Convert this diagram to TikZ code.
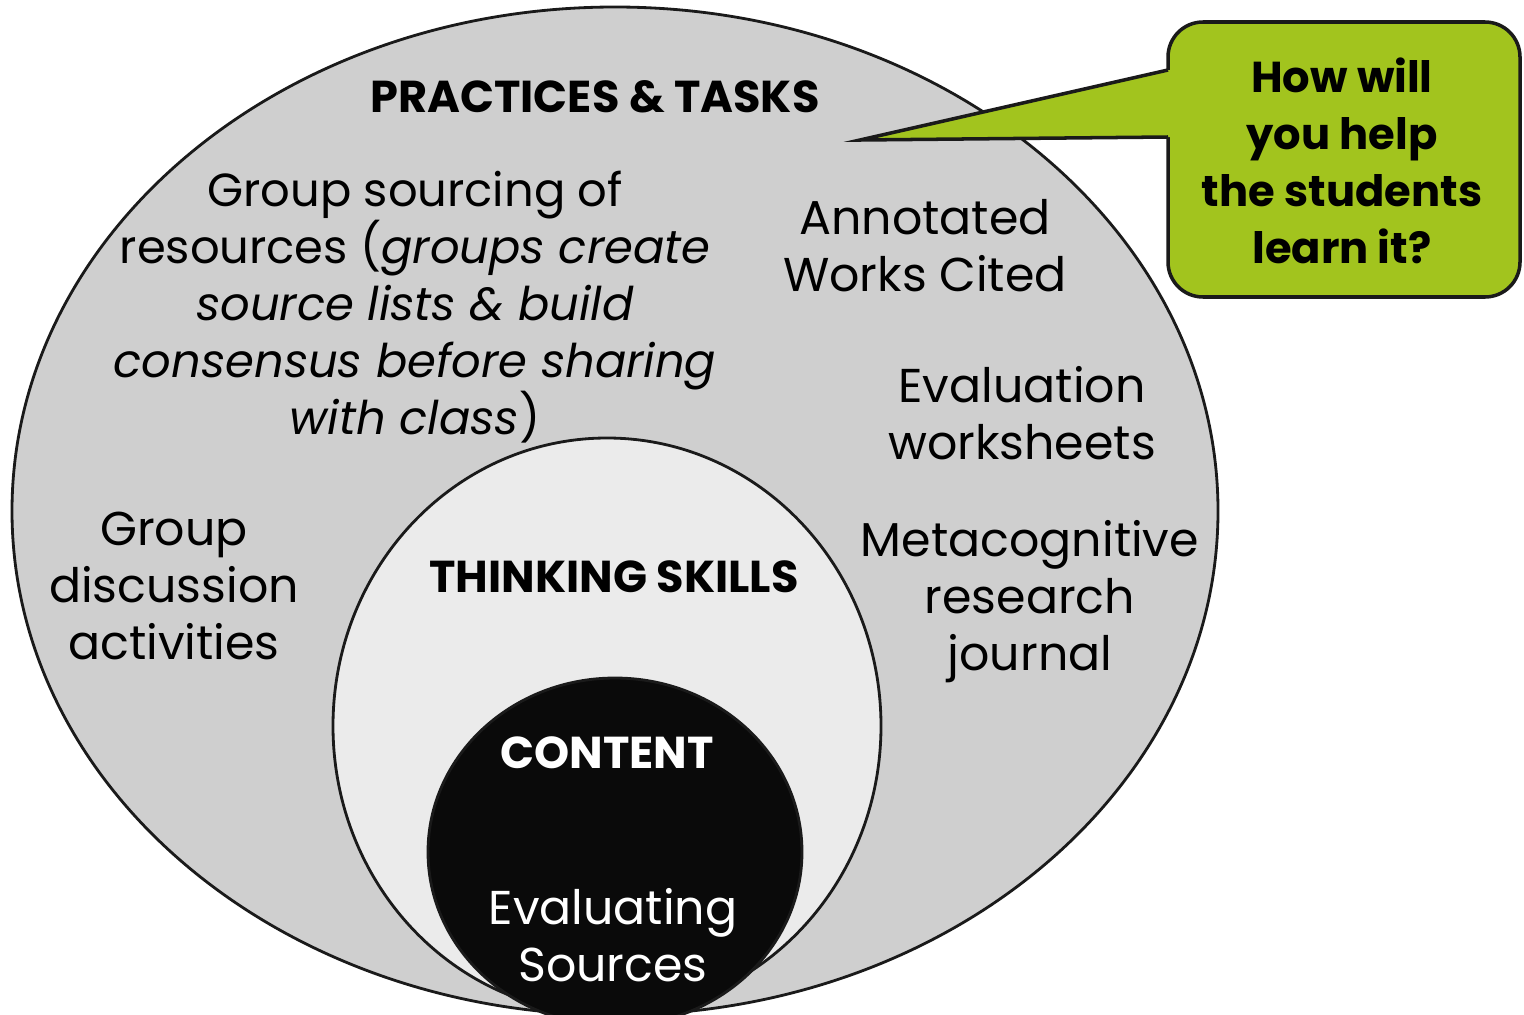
\documentclass[tikz,border=0pt]{standalone}
\usepackage{fontspec}
\setmainfont{Poppins}
\usepackage{tikz}
\usetikzlibrary{positioning,calc}
\usepackage{xcolor}

\definecolor{outergray}{HTML}{CFCFCF}
\definecolor{innergray}{HTML}{EBEBEB}
\definecolor{corefill}{HTML}{0A0A0A}
\definecolor{leafgreen}{HTML}{A2C41E}
\definecolor{rimline}{HTML}{1A1A1A}

\tikzset{
  ring/.style={draw=rimline,line width=0.8pt},
  body/.style={font=\fontsize{13.5}{16.2}\selectfont,align=center,inner sep=0pt},
  head/.style={font=\fontsize{12.7}{16.2}\selectfont\bfseries,inner sep=0pt},
  callout/.style={draw=rimline,line width=1pt,fill=leafgreen},
}

\begin{document}
\begin{tikzpicture}[x=0.01cm,y=-0.01cm]
  \useasboundingbox (0,0) rectangle (1524,1015);
  \begin{scope}
    \clip (0,0) rectangle (1524,1015);
    % the three nested rings
    \draw[ring,fill=outergray] (615,511) ellipse (603 and 504);
    \draw[ring,fill=innergray] (607,726) ellipse (274 and 288);
    \draw[ring,fill=corefill] (615,852) ellipse (187 and 174);
  \end{scope}

  % speech bubble: box, then the pointer laid over its left edge
  \draw[callout,rounded corners=0.35cm] (1168,22) rectangle (1520,297);
  \fill[leafgreen] (1168,70) -- (860,140) -- (1168,137) -- (1175,137) -- (1175,70) -- cycle;
  \draw[rimline,line width=1pt,line join=miter] (1168,70) -- (860,140) -- (1168,137);

  \node[head] (practices) at (595,97) {PRACTICES \& TASKS};
  \node[body,font=\fontsize{13.2}{16.2}\selectfont] (sourcing) at (415,307) {Group sourcing of\\resources (\textit{groups create}\\\textit{source lists \& build}\\\textit{consensus before sharing}\\\textit{with class})};
  \node[body] (annotated) at (925,246) {Annotated\\Works Cited};
  \node[body] (worksheets) at (1022,413) {Evaluation\\worksheets};
  \node[body] (journal) at (1030,602) {Metacognitive\\research\\journal};
  \node[body] (discussion) at (174,586) {Group\\discussion\\activities};
  \node[head] (thinking) at (614,577) {THINKING SKILLS};
  \node[head,text=white] (content) at (607,753) {CONTENT};
  \node[body,text=white] (evaluating) at (613,935) {Evaluating\\Sources};
  \node[body,font=\fontsize{12.3}{16.2}\selectfont\bfseries] (question) at (1342,161) {How will\\you help\\the students\\learn it?};
\end{tikzpicture}
\end{document}
